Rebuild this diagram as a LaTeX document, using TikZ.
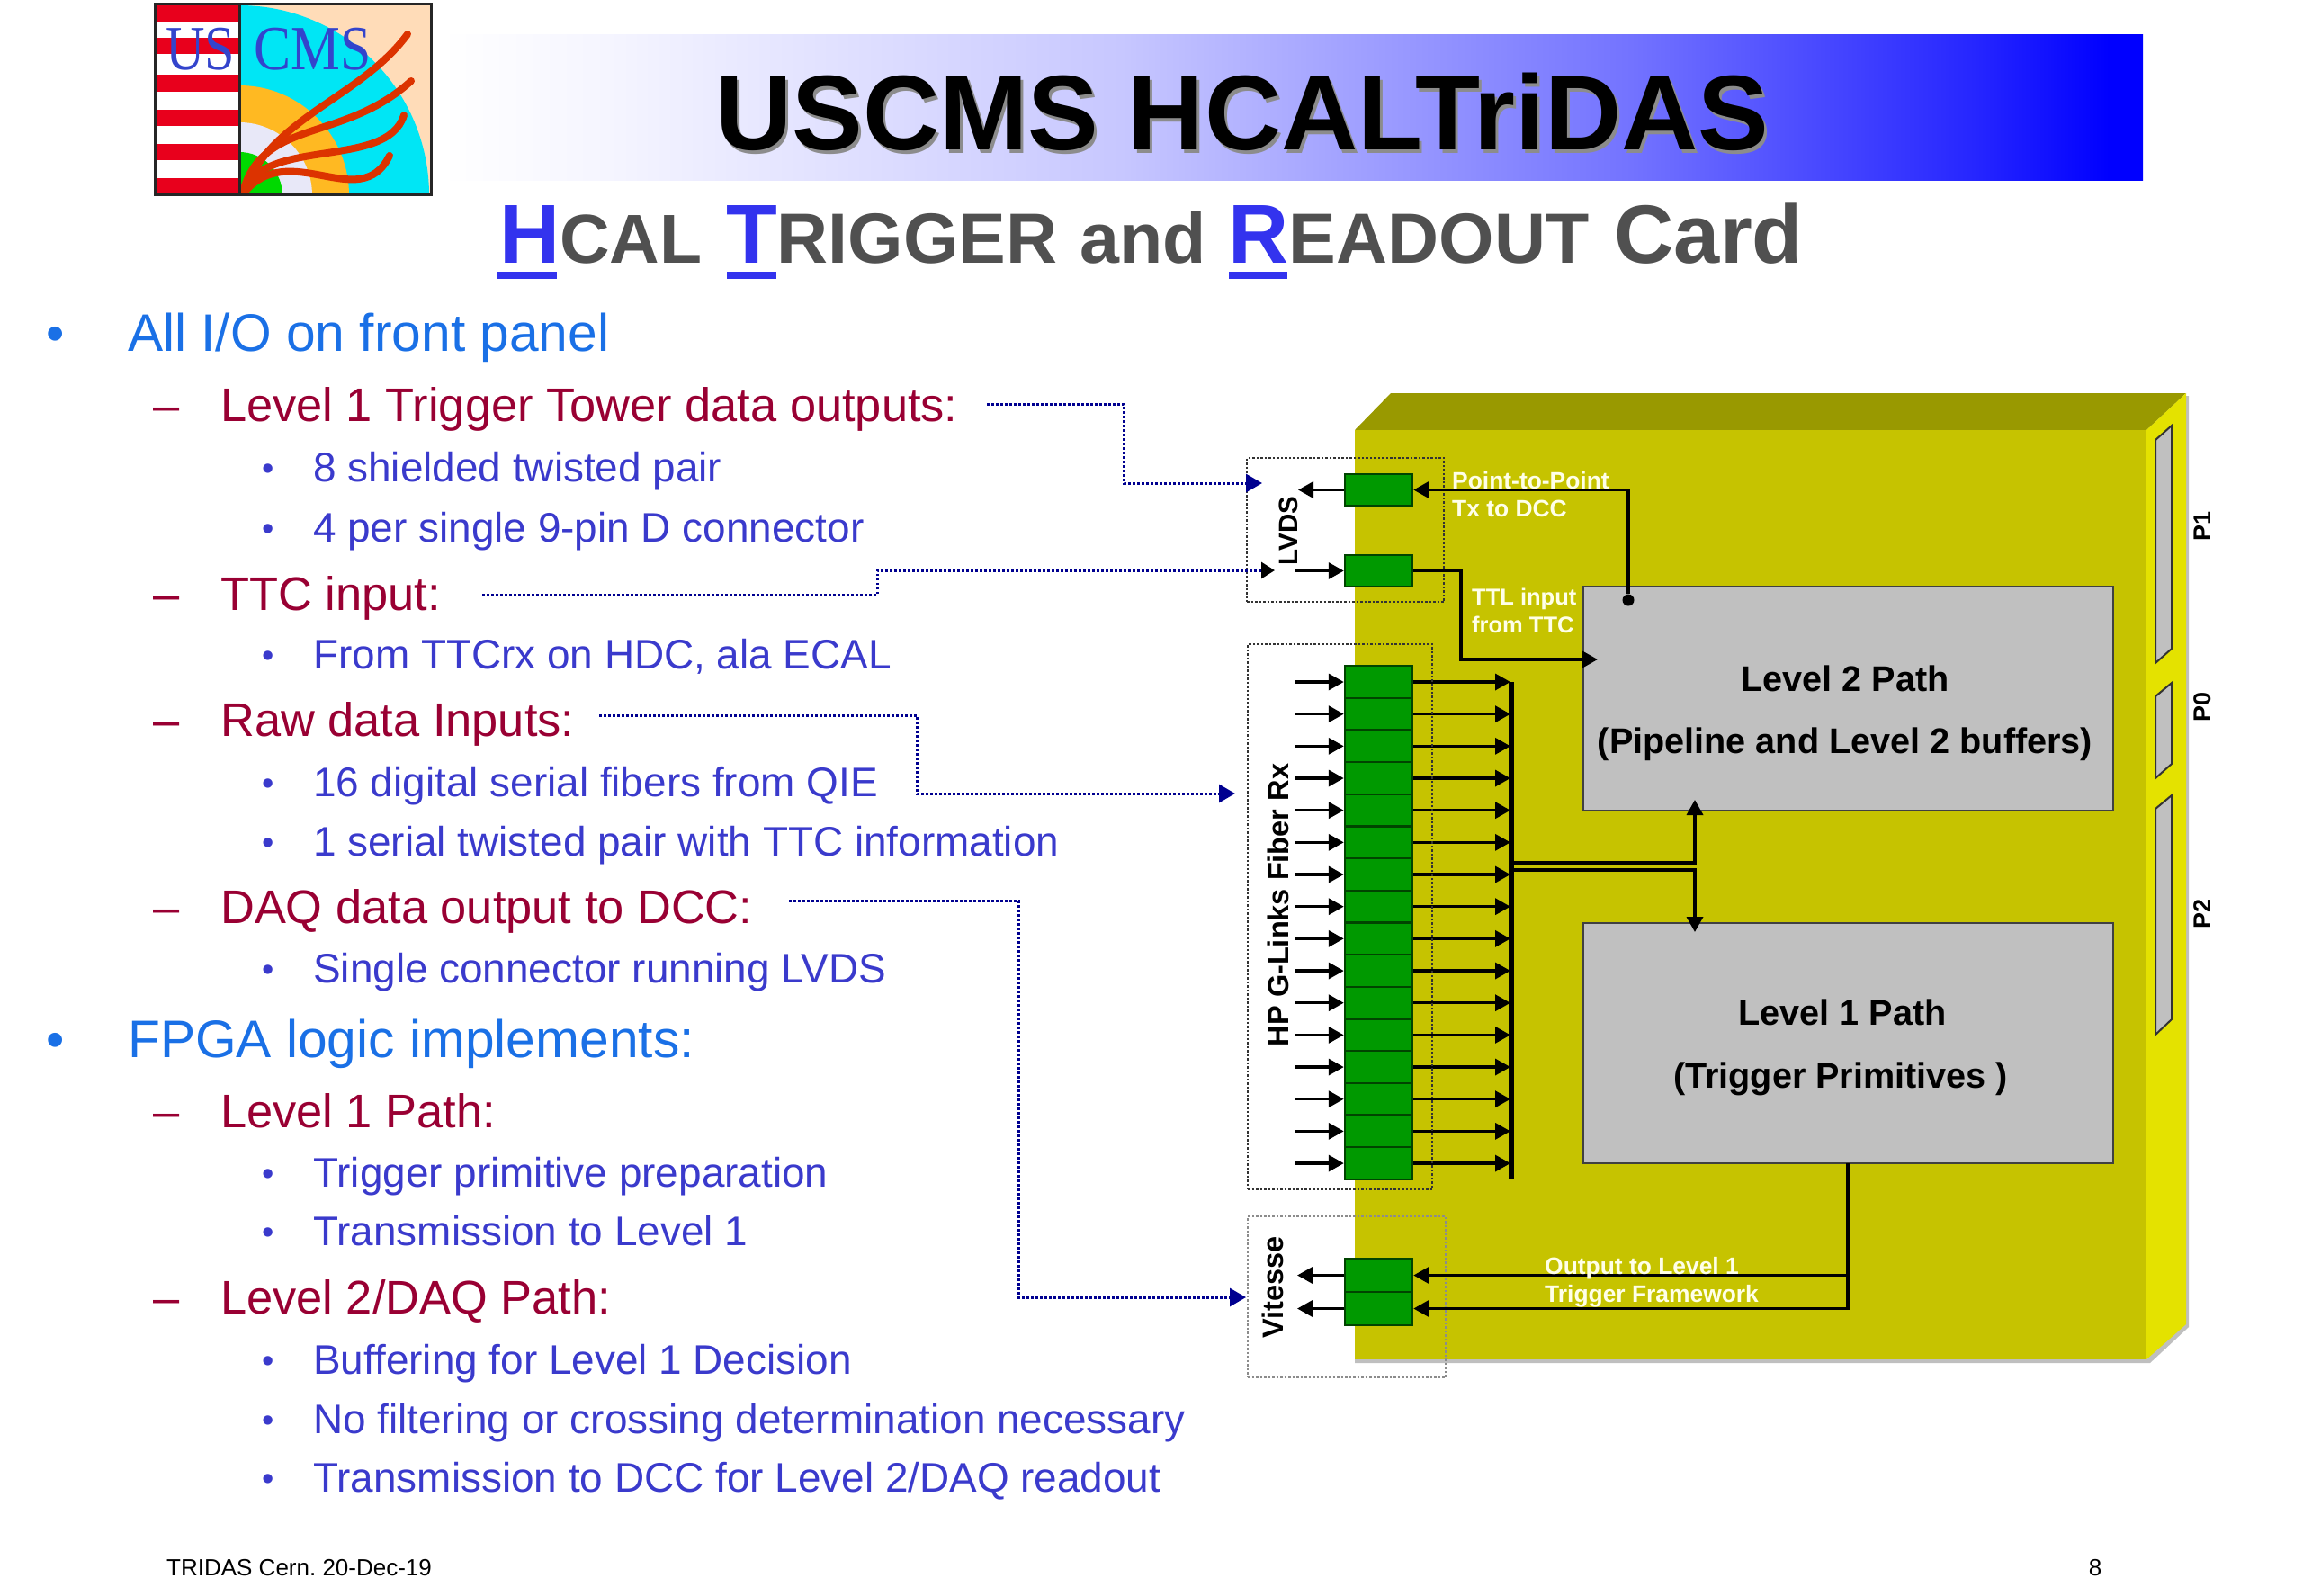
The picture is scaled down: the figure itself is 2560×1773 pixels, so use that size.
\documentclass[tikz,border=0pt]{standalone}
\usepackage{fontspec}
\setmainfont{Liberation Sans}
\newfontfamily\logofont{Liberation Serif}
\usetikzlibrary{arrows.meta}
\definecolor{boardfront}{HTML}{C6C300}
\definecolor{boardtop}{HTML}{999900}
\definecolor{boardside}{HTML}{E4E200}
\definecolor{chipgreen}{HTML}{009900}
\definecolor{chipedge}{HTML}{004400}
\definecolor{pathgrey}{HTML}{C0C0C0}
\definecolor{headblue}{HTML}{1A70E6}
\definecolor{subred}{HTML}{990033}
\definecolor{itemblue}{HTML}{3A3ACC}
\definecolor{initblue}{HTML}{3333EE}
\definecolor{subgrey}{HTML}{505050}
\definecolor{labelcream}{HTML}{FFFFE8}
\definecolor{leadernavy}{HTML}{000090}
\definecolor{logopeach}{HTML}{FFDCB8}
\definecolor{logocyan}{HTML}{00E6F5}
\definecolor{logoorange}{HTML}{FFB922}
\definecolor{logolav}{HTML}{E8E8F8}
\definecolor{logored}{HTML}{E8001C}
\definecolor{logotrack}{HTML}{DC3300}
\definecolor{logotext}{HTML}{3344CC}
\pgfdeclarehorizontalshading{barfade}{100bp}{color(0bp)=(white); color(25bp)=(white); color(30bp)=(blue!4!white); color(45bp)=(blue!22!white); color(60bp)=(blue!55!white); color(70bp)=(blue!85!white); color(74bp)=(blue); color(100bp)=(blue)}
\newcommand{\fsz}[1]{\fontsize{#1}{#1}\selectfont}
\frenchspacing
\tikzset{
  sig/.style={line width=3.5pt,-{Triangle[length=17pt,width=18pt]}},
  leader/.style={draw=leadernavy,line width=3pt,dash pattern=on 2.5pt off 2.5pt,-{Triangle[length=18pt,width=20pt]}},
  chip/.style={draw=chipedge,fill=chipgreen,line width=2.5pt,minimum width=75pt,inner sep=0pt},
  pathbox/.style={draw=black!75,fill=pathgrey,line width=2pt,inner sep=0pt,minimum width=589pt},
  portgroup/.style={draw=black!80,line width=2.5pt,dash pattern=on 2.5pt off 2pt,inner sep=0pt},
  pathtext/.style={font=\fsz{39.6}\bfseries,inner sep=0pt},
  whitetext/.style={font=\fsz{26.4}\bfseries,text=labelcream,inner sep=0pt,anchor=base west},
  sidetext/.style={font=\fsz{32.5}\bfseries,rotate=90,inner sep=0pt},
  slot/.style={draw=black!80,fill=pathgrey,line width=2pt},
  pin/.style={font=\fsz{27}\bfseries,rotate=90,inner sep=0pt},
  itemone/.style={font=\fsz{58.7},text=headblue,inner sep=0pt,anchor=base west},
  itemtwo/.style={font=\fsz{52.4},text=subred,inner sep=0pt,anchor=base west},
  itemthree/.style={font=\fsz{45.9},text=itemblue,inner sep=0pt,anchor=base west}
}
\begin{document}
\begin{tikzpicture}[x=1pt,y=-1pt]
  \useasboundingbox (0,0) rectangle (2560,1773);

  % logo
  \fill[white] (172,4) rectangle (266,216);
  \foreach \a/\b in {5/25,42/60,83/102,122/140,160/178,198/216}{
    \fill[logored] (172,\a) rectangle (266,\b);
  }
  \begin{scope}
    \clip (266,4) rectangle (479,216);
    \fill[logopeach] (266,4) rectangle (479,216);
    \fill[logocyan] (266,217) circle (211);
    \fill[logoorange] (266,217) circle (122);
    \fill[logolav] (266,217) circle (81);
    \fill[green!85!black] (266,217) circle (48);
    \draw[logotrack,line width=8pt,line cap=round] (269,217) .. controls (300,130) and (400,110) .. (453,38);
    \draw[logotrack,line width=8pt,line cap=round] (269,217) .. controls (290,130) and (380,160) .. (457,90);
    \draw[logotrack,line width=8pt,line cap=round] (269,217) .. controls (290,150) and (430,190) .. (449,128);
    \draw[logotrack,line width=8pt,line cap=round] (269,217) .. controls (320,150) and (400,240) .. (433,173);
  \end{scope}
  \node[font=\logofont\fsz{70},text=logotext,inner sep=0pt,anchor=base west,xscale=.86] (logous) at (184,77) {US};
  \node[font=\logofont\fsz{70},text=logotext,inner sep=0pt,anchor=base west,xscale=.88] (logocms) at (282,77) {CMS};
  \draw[black!85,line width=3pt] (172,4) rectangle (479,216) (266,4) -- (266,216);

  % title bar
  \shade[shading=barfade] (490,38) rectangle (2382,200);
  \node[font=\fsz{118}\bfseries,text=black!45,inner sep=0pt,anchor=base west] (titleshade) at (798,170) {USCMS HCALTriDAS};
  \node[font=\fsz{118}\bfseries,inner sep=0pt,anchor=base west] (title) at (795,166) {USCMS HCALTriDAS};
  \node[font=\bfseries,text=subgrey,inner sep=0pt,anchor=base west] (subtitle) at (555,292) {\fsz{93}{\color{initblue}H}\fsz{77}CAL \hspace{5pt}\fsz{79}{\color{initblue}\fsz{93}T}RIGGER \hspace{3pt}and \hspace{3pt}{\color{initblue}\fsz{93}R}EADOUT \hspace{6pt}\fsz{92}Card};
  \foreach \a/\b in {553/619,808/863,1366/1431}{
    \fill[initblue] (\a,302) rectangle (\b,310);
  }

  % bullet list
  \foreach \nm/\y/\txt in {io/390/{All I/O on front panel},fpga/1175/{FPGA logic implements:}}{
    \node[itemone] (\nm) at (142,\y) {\txt};
    \node[itemone,font=\fsz{58}] (\nm dot) at (51,\y) {•};
  }
  \foreach \nm/\y/\txt in {tower/468/{Level 1 Trigger Tower data outputs:},ttc/678/{TTC input:},raw/818/{Raw data Inputs:},daq/1026/{DAQ data output to DCC:},lonepath/1253/{Level 1 Path:},ltwopath/1460/{Level 2/DAQ Path:}}{
    \node[itemtwo] (\nm) at (245,\y) {\txt};
    \node[itemtwo] (\nm dash) at (170,\y) {–};
  }
  \foreach \c/\y/\txt in {1/535/{8 shielded twisted pair},2/602/{4 per single 9-pin D connector},3/743/{From TTCrx on HDC, ala ECAL},4/885/{16 digital serial fibers from QIE},5/951/{1 serial twisted pair with TTC information},6/1092/{Single connector running LVDS},7/1319/{Trigger primitive preparation},8/1384/{Transmission to Level 1},9/1527/{Buffering for Level 1 Decision},10/1593/{No filtering or crossing determination necessary},11/1658/{Transmission to DCC for Level 2/DAQ readout}}{
    \node[itemthree] (sub\c) at (348,\y) {\txt};
    \node[itemthree,font=\fsz{38}] (sub\c dot) at (291,\y-2) {•};
  }

  % board
  \fill[black!25] (1506,481) -- (1546,440) -- (2433,440) -- (2433,1475) -- (2390,1515) -- (1506,1515) -- cycle;
  \fill[boardtop] (1506,478) -- (1546,437) -- (2430,437) -- (2386,478) -- cycle;
  \fill[boardside] (2386,478) -- (2430,437) -- (2430,1472) -- (2386,1511) -- cycle;
  \fill[boardfront] (1506,478) rectangle (2386,1511);
  \draw[slot] (2396,489) -- (2414,473) -- (2414,721) -- (2396,737) -- cycle;
  \draw[slot] (2396,774) -- (2414,759) -- (2414,849) -- (2396,865) -- cycle;
  \draw[slot] (2396,899) -- (2414,884) -- (2414,1133) -- (2396,1150) -- cycle;
  \node[pin] (pone) at (2448,585) {P1};
  \node[pin] (pzero) at (2448,786) {P0};
  \node[pin] (ptwo) at (2448,1016) {P2};

  % path boxes
  \node[pathbox,minimum height=249pt] (ltwo) at (2054.5,776.5) {};
  \node[pathbox,minimum height=267pt] (lone) at (2054.5,1159.5) {};
  \node[pathtext] (ltwoa) at (2051,754) {Level 2 Path};
  \node[pathtext] (ltwob) at (2051,827) {(Pipeline and Level 2 buffers)};
  \node[pathtext] (lonea) at (2048,1125) {Level 1 Path};
  \node[pathtext] (loneb) at (2046,1199) {(Trigger Primitives )};

  % lvds
  \node[chip,minimum height=35pt] (lvdstx) at (1532.5,544.5) {};
  \node[chip,minimum height=35pt] (lvdsrx) at (1532.5,634.5) {};
  \coordinate (lvdsoutend) at (1443,544.5);
  \coordinate (lvdsinstart) at (1440,634.5);
  \draw[sig] (lvdstx) -- (lvdsoutend);
  \draw[sig] (lvdsinstart) -- (lvdsrx);
  \node[portgroup,minimum width=219pt,minimum height=160pt] (lvdsgroup) at (1495.5,589) {};
  \node[sidetext,font=\fsz{29.5}\bfseries] (lvdslabel) at (1432,590) {LVDS};
  \node[circle,fill=black,inner sep=0pt,minimum size=13pt] (ltwotap) at (1810,667) {};
  \draw[sig] (ltwotap) |- (lvdstx);
  \coordinate (ttlbend) at (1624,733);
  \coordinate (ltwoin) at (1776,733);
  \draw[sig] (lvdsrx) -| (ttlbend) -- (ltwoin);
  \node[whitetext] (ptp) at (1614,543) {Point-to-Point};
  \node[whitetext] (txdcc) at (1614,574) {Tx to DCC};
  \node[whitetext,font=\fsz{25.5}\bfseries] (ttlin) at (1636,672) {TTL input};
  \node[whitetext,font=\fsz{25.5}\bfseries] (fromttc) at (1636,703) {from TTC};

  % fiber inputs
  \foreach \i [evaluate=\i as \y using {758+35.67*(\i-1)}] in {1,...,16}{
    \node[chip,minimum height=35.67pt] (rx\i) at (1532.5,\y) {};
    \coordinate (rxin\i) at (1440,\y);
    \coordinate (bus\i) at (1679,\y);
    \draw[sig] (rxin\i) -- (rx\i);
    \draw[sig] (rx\i) -- (bus\i);
  }
  \coordinate (bustop) at (1680,758);
  \coordinate (busbot) at (1680,1311);
  \draw[line width=6pt] (bustop) -- (busbot);
  \node[portgroup,minimum width=205pt,minimum height=606pt] (fibergroup) at (1489.5,1019) {};
  \node[sidetext] (fiberlabel) at (1421,1006) {HP G-Links Fiber Rx};
  \coordinate (busa) at (1680,959);
  \coordinate (busb) at (1680,967);
  \coordinate (ltwotip) at (1884,889);
  \coordinate (lonetip) at (1884,1036);
  \draw[sig] (busa) -| (ltwotip);
  \draw[sig] (busb) -| (lonetip);

  % vitesse
  \node[chip,minimum height=37pt] (vita) at (1532.5,1417.5) {};
  \node[chip,minimum height=37pt] (vitb) at (1532.5,1454.5) {};
  \coordinate (vitaout) at (1442,1417.5);
  \coordinate (vitbout) at (1442,1454.5);
  \draw[sig] (vita) -- (vitaout);
  \draw[sig] (vitb) -- (vitbout);
  \node[portgroup,draw=black!45,line width=2pt,minimum width=220pt,minimum height=179pt] (vitgroup) at (1497,1441.5) {};
  \node[sidetext] (vitlabel) at (1415,1431) {Vitesse};
  \coordinate (loneout) at (2054,1293);
  \draw[sig] (loneout) |- (vita);
  \draw[sig] (loneout) |- (vitb);
  \node[whitetext] (outa) at (1717,1416) {Output to Level 1};
  \node[whitetext] (outb) at (1717,1447) {Trigger Framework};

  % dotted leaders
  \coordinate (towerstart) at (1097,449);
  \coordinate (towerbend) at (1249,537);
  \coordinate (towerend) at (1403,537);
  \draw[leader] (towerstart) -| (towerbend) -- (towerend);
  \coordinate (ttcstart) at (536,661);
  \coordinate (ttcbend) at (975,634);
  \coordinate (ttcend) at (1417,634);
  \draw[leader,-{Triangle[length=15pt,width=18pt,color=black]}] (ttcstart) -| (ttcbend) -- (ttcend);
  \coordinate (rawstart) at (666,795);
  \coordinate (rawbend) at (1019,882);
  \coordinate (rawend) at (1373,882);
  \draw[leader] (rawstart) -| (rawbend) -- (rawend);
  \coordinate (daqstart) at (877,1001);
  \coordinate (daqbend) at (1132,1442);
  \coordinate (daqend) at (1385,1442);
  \draw[leader] (daqstart) -| (daqbend) -- (daqend);

  % footer
  \node[font=\fsz{26},inner sep=0pt,anchor=base west] (footer) at (185,1751) {TRIDAS Cern. 20-Dec-19};
  \node[font=\fsz{26},inner sep=0pt,anchor=base] (pageno) at (2329,1751) {8};
\end{tikzpicture}
\end{document}
